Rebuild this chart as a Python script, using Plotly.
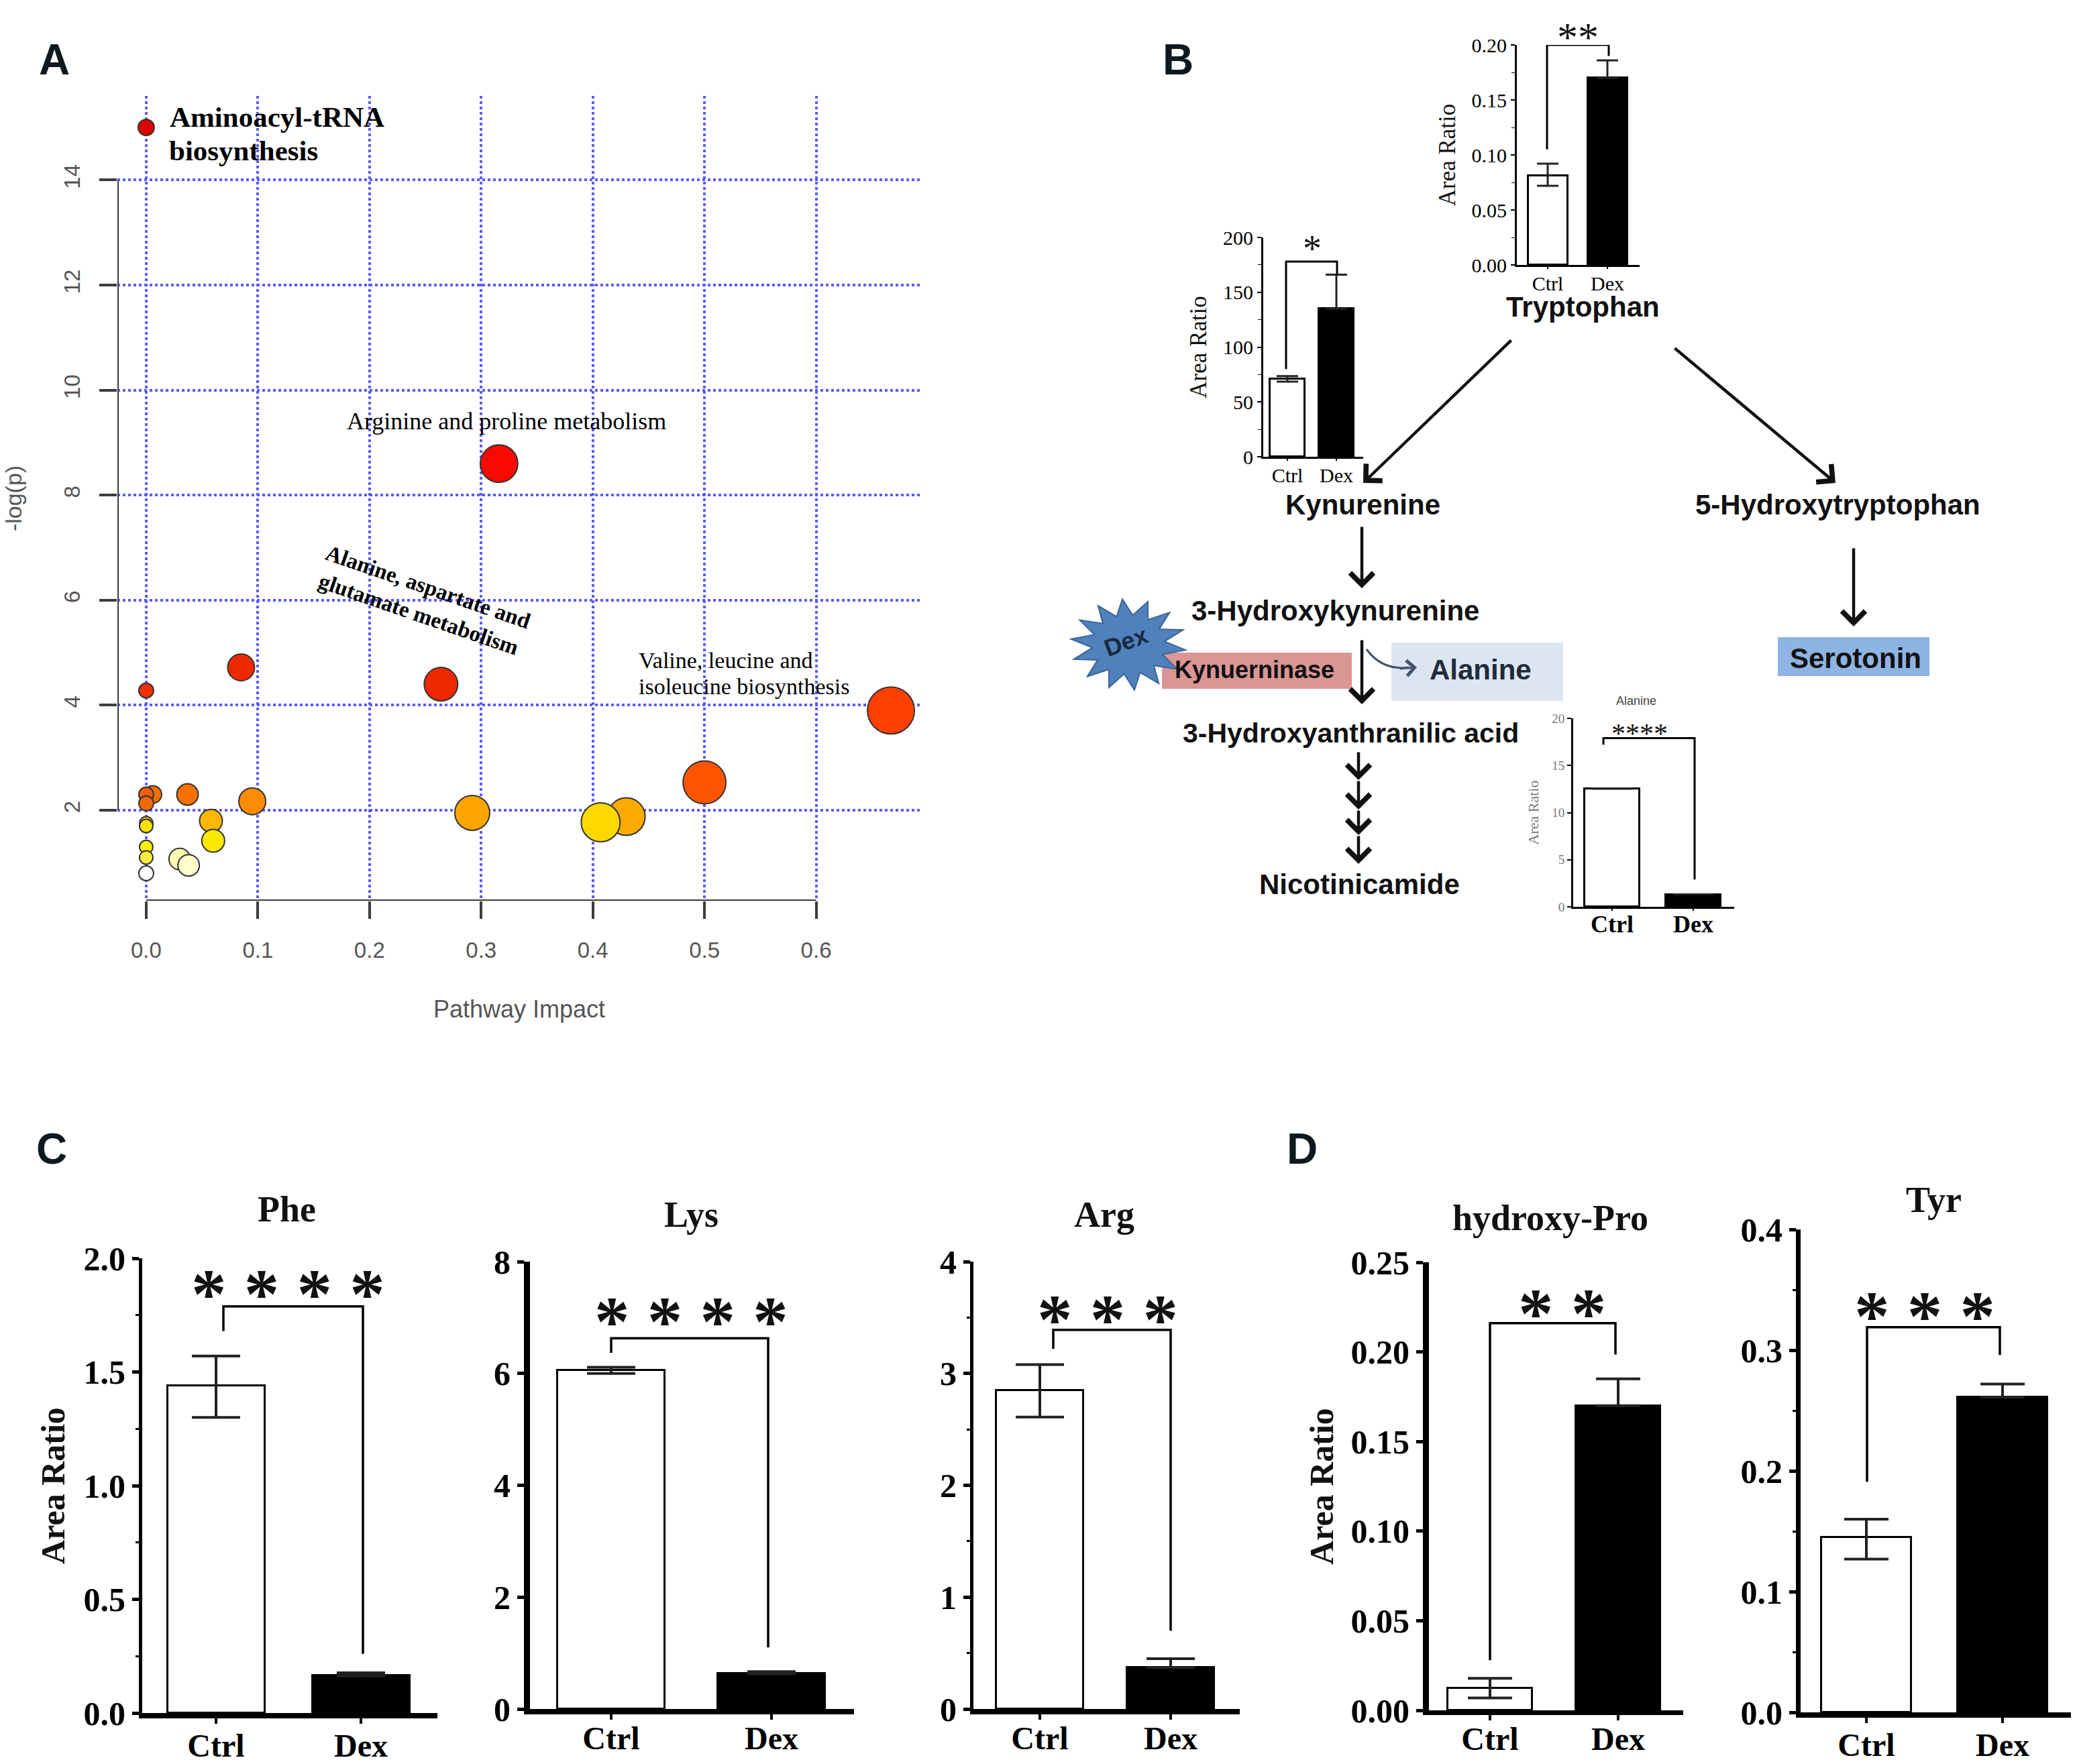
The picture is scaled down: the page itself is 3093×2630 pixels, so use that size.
import math
import plotly.graph_objects as go

W, H = 3093, 2630
SERIF = "Liberation Serif"
SANS = "Liberation Sans"

# ---------- Panel A data ----------
impact = [0.0, 0.0, 0.085, 0.264, 0.316, 0.667, 0.5, 0.43, 0.407, 0.292, 0.095, 0.058, 0.06, 0.037,
          0.006, 0.0, 0.0, 0.0, 0.0, 0.0, 0.0, 0.03, 0.038, 0.0]
neglogp = [15.0, 4.28, 4.72, 4.4, 8.6, 3.9, 2.53, 1.88, 1.77, 1.95, 2.17, 1.8, 1.42, 2.3,
           2.3, 2.3, 2.13, 1.75, 1.7, 1.3, 1.1, 1.07, 0.95, 0.8]
bubble_size = [24, 22, 40, 50, 56, 70, 64, 56, 58, 52, 40, 34, 34, 32,
               26, 22, 22, 20, 20, 20, 20, 32, 32, 22]
bubble_color = ["#dd0000", "#f03000", "#f02800", "#f02800", "#f80a00", "#ff4000", "#ff5500", "#ffaa00",
                "#ffd800", "#ffa500", "#ff8c00", "#ffb700", "#ffe800", "#f87000", "#f07000", "#f06000",
                "#ee6a00", "#ffc800", "#ffe000", "#fff000", "#fff040", "#fffbb0", "#fffdd0", "#ffffff"]
impact_ticks = [0.0, 0.1, 0.2, 0.3, 0.4, 0.5, 0.6]
impact_labels = ["0.0", "0.1", "0.2", "0.3", "0.4", "0.5", "0.6"]
logp_ticks = [2, 4, 6, 8, 10, 12, 14]

# ---------- Bar data ----------
groups = ["Ctrl", "Dex"]
phe_val, phe_up, phe_dn = [1.44, 0.164], [0.13, 0.013], [0.14, 0]
lys_val, lys_up, lys_dn = [6.06, 0.63], [0.05, 0.04], [0.06, 0]
arg_val, arg_up, arg_dn = [2.85, 0.37], [0.23, 0.08], [0.24, 0]
hyp_val, hyp_up, hyp_dn = [0.0124, 0.170], [0.0055, 0.015], [0.0055, 0]
tyr_val, tyr_up, tyr_dn = [0.145, 0.261], [0.015, 0.011], [0.018, 0]
trp_val, trp_up, trp_dn = [0.081, 0.170], [0.011, 0.016], [0.009, 0]
kyn_val, kyn_up, kyn_dn = [71, 135], [2.5, 31], [2.5, 0]
ala_val, ala_up, ala_dn = [12.55, 1.3], [0.05, 0.05], [0.05, 0]

phe_ticks, phe_labels = [0, 0.5, 1.0, 1.5, 2.0], ["0.0", "0.5", "1.0", "1.5", "2.0"]
lys_ticks, lys_labels = [0, 2, 4, 6, 8], ["0", "2", "4", "6", "8"]
arg_ticks, arg_labels = [0, 1, 2, 3, 4], ["0", "1", "2", "3", "4"]
hyp_ticks, hyp_labels = [0, 0.05, 0.10, 0.15, 0.20, 0.25], ["0.00", "0.05", "0.10", "0.15", "0.20", "0.25"]
tyr_ticks, tyr_labels = [0, 0.1, 0.2, 0.3, 0.4], ["0.0", "0.1", "0.2", "0.3", "0.4"]
trp_ticks, trp_labels = [0, 0.05, 0.10, 0.15, 0.20], ["0.00", "0.05", "0.10", "0.15", "0.20"]
kyn_ticks, kyn_labels = [0, 50, 100, 150, 200], ["0", "50", "100", "150", "200"]
ala_ticks, ala_labels = [0, 5, 10, 15, 20], ["0", "5", "10", "15", "20"]

# bracket heights: left foot, top, right foot
phe_br, lys_br, arg_br = [1.68, 1.788, 0.26], [6.37, 6.63, 1.1], [3.22, 3.39, 0.70]
hyp_br, tyr_br = [0.028, 0.216, 0.1985], [0.191, 0.319, 0.296]
trp_br, kyn_br, ala_br = [0.105, 0.20, 0.19], [80, 178, 166], [17.2, 17.9, 2.9]

# ---------- Layout of the bar panels (pixels in the 3093x2630 page) ----------
panels = [
 dict(val=phe_val, up=phe_up, dn=phe_dn, t=phe_ticks, l=phe_labels, br=phe_br, ymax=2.0, minor=0.25,
      x0=212, x1=652, y0=1876, y1=2554, c=(322, 538), bw=145, brx=(333, 541), stars="* * * *", sx=430, sy=1912, ss=105,
      title="Phe", tx=427, ty=1803, fs=50, bold=True, alw=5, xlw=8, lw=3, cap=36, et=4, ylab=True, xfs=48, xst=-9),
 dict(val=lys_val, up=lys_up, dn=lys_dn, t=lys_ticks, l=lys_labels, br=lys_br, ymax=8, minor=None,
      x0=790, x1=1273, y0=1881, y1=2548, c=(911, 1150), bw=160, brx=(911, 1145), stars="* * * *", sx=1030, sy=1953, ss=105,
      title="Lys", tx=1030, ty=1811, fs=50, bold=True, alw=9, xlw=8, lw=3, cap=36, et=4, ylab=False, xfs=48, xst=-14),
 dict(val=arg_val, up=arg_up, dn=arg_dn, t=arg_ticks, l=arg_labels, br=arg_br, ymax=4, minor=0.5,
      x0=1451, x1=1848, y0=1881, y1=2548, c=(1550, 1745), bw=130, brx=(1570, 1745), stars="* * *", sx=1651, sy=1950, ss=105,
      title="Arg", tx=1646, ty=1811, fs=50, bold=True, alw=5, xlw=8, lw=3, cap=36, et=4, ylab=False, xfs=48, xst=-14),
 dict(val=hyp_val, up=hyp_up, dn=hyp_dn, t=hyp_ticks, l=hyp_labels, br=hyp_br, ymax=0.25, minor=None,
      x0=2130, x1=2509, y0=1882, y1=2550, c=(2221, 2412), bw=126, brx=(2221, 2408), stars="* *", sx=2328, sy=1941, ss=105,
      title="hydroxy-Pro", tx=2311, ty=1816, fs=50, bold=True, alw=9, xlw=7, lw=3, cap=33, et=4, ylab=True, xfs=48, xst=-14),
 dict(val=tyr_val, up=tyr_up, dn=tyr_dn, t=tyr_ticks, l=tyr_labels, br=tyr_br, ymax=0.4, minor=0.05,
      x0=2684, x1=3087, y0=1833, y1=2553, c=(2782, 2985), bw=134, brx=(2783, 2981), stars="* * *", sx=2869, sy=1945, ss=105,
      title="Tyr", tx=2882, ty=1789, fs=50, bold=True, alw=7, xlw=8, lw=3, cap=33, et=4, ylab=False, xfs=48, xst=-9),
 dict(val=trp_val, up=trp_up, dn=trp_dn, t=trp_ticks, l=trp_labels, br=trp_br, ymax=0.20, minor=0.025,
      x0=2261, x1=2444, y0=67, y1=395, c=(2307, 2396), bw=59, brx=(2306, 2398), stars="**", sx=2352, sy=44, ss=62,
      title=None, fs=30, bold=False, alw=3, xlw=3, lw=3, cap=16, et=3, ylab=True, xfs=30, xst=-4),
 dict(val=kyn_val, up=kyn_up, dn=kyn_dn, t=kyn_ticks, l=kyn_labels, br=kyn_br, ymax=200, minor=25,
      x0=1883, x1=2032, y0=354, y1=681, c=(1919, 1992), bw=52, brx=(1917, 1993), stars="*", sx=1956, sy=361, ss=56,
      title=None, fs=30, bold=False, alw=3, xlw=3, lw=3, cap=16, et=3, ylab=True, xfs=30, xst=-4),
 dict(val=ala_val, up=ala_up, dn=ala_dn, t=ala_ticks, l=ala_labels, br=ala_br, ymax=20, minor=None,
      x0=2345, x1=2585, y0=1071, y1=1352, c=(2403, 2524), bw=82, brx=(2390, 2526), stars="****", sx=2444, sy=1087, ss=42,
      title=None, fs=19, bold=False, alw=3, xlw=3, lw=3, cap=30, et=2, ylab=True, xfs=36, xst=-11),
]


def X(px):
    return px / W


def Y(py):
    return 1 - py / H


annotations, shapes, traces = [], [], []
layout = {}


def txt(x, y, text, size, color="black", family=SERIF, bold=False, angle=0, anchor="center"):
    annotations.append(dict(x=X(x), y=Y(y), xref="paper", yref="paper", text=f"<b>{text}</b>" if bold else text,
                            showarrow=False, xanchor=anchor, yanchor="middle", textangle=angle,
                            font=dict(family=family, size=size, color=color)))


def arrow(x0, y0, x1, y1, width=4.5, size=1.5, color="#111111", head=4):
    annotations.append(dict(x=X(x1), y=Y(y1), xref="paper", yref="paper", ax=x0 - x1, ay=y0 - y1,
                            axref="pixel", ayref="pixel", text="", showarrow=True, arrowhead=head,
                            arrowwidth=width, arrowsize=size, arrowcolor=color))


def rect(x0, y0, x1, y1, color):
    shapes.append(dict(type="rect", xref="paper", yref="paper", x0=X(x0), x1=X(x1), y0=Y(y0), y1=Y(y1),
                       fillcolor=color, line=dict(width=0), layer="below"))


# ---------- Panel A ----------
A_L, A_R, A_T, A_B = 175, 1373, 143, 1343
A_XR = [-0.0258, 0.694]
A_YR = [0.276, 15.6]
# partial axis lines, as in an R base plot
traces.append(go.Scatter(x=[impact_ticks[0], impact_ticks[-1]], y=[A_YR[0], A_YR[0]], mode="lines", xaxis="x", yaxis="y",
                         cliponaxis=False, showlegend=False, hoverinfo="skip", line=dict(color="#3c3c3c", width=4)))
traces.append(go.Scatter(x=[A_XR[0], A_XR[0]], y=[logp_ticks[0], logp_ticks[-1]], mode="lines", xaxis="x", yaxis="y",
                         cliponaxis=False, showlegend=False, hoverinfo="skip", line=dict(color="#3c3c3c", width=4)))
traces.append(go.Scatter(x=impact, y=neglogp, mode="markers", xaxis="x", yaxis="y", cliponaxis=False, showlegend=False,
                         marker=dict(size=bubble_size, color=bubble_color, line=dict(color="#333333", width=2), opacity=1)))
grid = dict(showgrid=True, gridcolor="#5a5aff", griddash="dot", gridwidth=4, zeroline=False, showline=False,
            ticks="outside", ticklen=26, tickwidth=4, tickcolor="#3c3c3c", automargin=False,
            tickfont=dict(family=SANS, size=33, color="#555555"))
layout["xaxis"] = dict(domain=[X(A_L), X(A_R)], range=A_XR, tickmode="array", tickvals=impact_ticks, ticktext=impact_labels,
                       ticklabelstandoff=18,
                       title=dict(text="Pathway Impact", font=dict(family=SANS, size=36, color="#555555"), standoff=58), **grid)
layout["yaxis"] = dict(domain=[Y(A_B), Y(A_T)], range=A_YR, tickmode="array", tickvals=logp_ticks,
                       ticktext=[str(v) for v in logp_ticks], tickangle=-90, ticklabelstandoff=16,
                       title=dict(text="-log(p)", font=dict(family=SANS, size=34, color="#555555"), standoff=45), **grid)

txt(251, 175, "Aminoacyl-tRNA", 43, bold=True, anchor="left")
txt(250, 224, "biosynthesis", 43, bold=True, anchor="left")
txt(755, 628, "Arginine and proline metabolism", 36, anchor="center")
txt(631, 896, "Alanine, aspartate and<br>glutamate metabolism", 33, bold=True, angle=19)
txt(950, 985, "Valine, leucine and", 34, anchor="left")
txt(950, 1023, "isoleucine biosynthesis", 34, anchor="left")

# ---------- Bar panels ----------
for i, p in enumerate(panels, start=2):
    xa, ya = f"x{i}", f"y{i}"
    c0, c1 = p["c"]
    span = c1 - c0
    xr = [(p["x0"] - c0) / span, (p["x1"] - c0) / span]
    traces.append(go.Bar(x=[0, 1], y=p["val"], xaxis=xa, yaxis=ya, width=p["bw"] / span, showlegend=False,
                         marker=dict(color=["white", "black"], line=dict(color="black", width=p["lw"])),
                         error_y=dict(type="data", symmetric=False, array=p["up"], arrayminus=p["dn"],
                                      color="#222222", thickness=p["et"], width=p["cap"])))
    bl, br_ = (p["brx"][0] - c0) / span, (p["brx"][1] - c0) / span
    traces.append(go.Scatter(x=[bl, bl, br_, br_], y=[p["br"][0], p["br"][1], p["br"][1], p["br"][2]], mode="lines",
                             xaxis=xa, yaxis=ya, showlegend=False, hoverinfo="skip",
                             line=dict(color="black", width=3.5 if p["xfs"] > 40 else 3)))
    tick_font = dict(family=SERIF, size=p["fs"], color="#777777" if p["fs"] < 25 else "black")
    tf = f"<b>%s</b>" if p["bold"] else "%s"
    layout[f"xaxis{i}"] = dict(domain=[X(p["x0"]), X(p["x1"])], range=xr, anchor=ya, tickmode="array", tickvals=[0, 1],
                               ticktext=[(f"<b>{g}</b>" if p["xfs"] >= 36 else g) for g in groups], automargin=False,
                               showgrid=False, zeroline=False, showline=True, linecolor="black", linewidth=p["xlw"],
                               ticks="outside", ticklen=8 if p["xfs"] > 40 else 3, tickwidth=4 if p["xfs"] > 40 else 2,
                               ticklabelstandoff=p["xst"],
                               tickcolor="black", tickfont=dict(family=SERIF, size=p["xfs"], color="black"))
    ytitle = None
    if p["ylab"]:
        size = {50: 50, 30: 35, 19: 22}[p["fs"]]
        ytitle = dict(text="<b>Area Ratio</b>" if p["bold"] else "Area Ratio",
                      font=dict(family=SERIF, size=size, color="#777777" if p["fs"] < 25 else "#111111"),
                      standoff=14 if p["bold"] else 14)
    yaxis = dict(domain=[Y(p["y1"]), Y(p["y0"])], range=[0, p["ymax"]], anchor=xa, tickmode="array", tickvals=p["t"],
                 ticktext=[tf % v for v in p["l"]], showgrid=False, zeroline=False, showline=True, linecolor="black",
                 linewidth=p["alw"], ticks="outside", ticklen=10 if p["bold"] else 6, tickwidth=5 if p["bold"] else 2,
                 tickcolor="black", tickfont=tick_font, automargin=False)
    if ytitle:
        yaxis["title"] = ytitle
    if p["minor"]:
        yaxis["minor"] = dict(dtick=p["minor"], ticks="outside", ticklen=5, tickwidth=3 if p["bold"] else 1, tickcolor="black")
    layout[f"yaxis{i}"] = yaxis
    txt(p["sx"], p["sy"] + 0.17 * p["ss"], p["stars"], p["ss"], color="#111111", bold=p["bold"])
    if p["title"]:
        txt(p["tx"], p["ty"], p["title"], 54, bold=True, color="#111111")

txt(2439, 1045, "Alanine", 18, family=SANS, color="#444444")

# ---------- Panel B pathway ----------
rect(1732, 973, 2015, 1027, "#d99694")
rect(2074, 958, 2330, 1045, "#dce6f2")
rect(2650, 950, 2876, 1008, "#8db4e2")

path_font = dict(size=42, family=SANS, bold=True, color="#111111")
txt(2359, 457, "Tryptophan", **path_font)
txt(2032, 752, "Kynurenine", **path_font)
txt(2739, 752, "5-Hydroxytryptophan", **path_font)
txt(1991, 911, "3-Hydroxykynurenine", **path_font)
txt(1870, 999, "Kynuerninase", size=36, family=SANS, bold=True, color="#111111")
txt(2207, 999, "Alanine", size=42, family=SANS, bold=True, color="#222b3a")
txt(2766, 981, "Serotonin", size=42, family=SANS, bold=True, color="#111111")
txt(2013, 1093, "3-Hydroxyanthranilic acid", size=41, family=SANS, bold=True, color="#111111")
txt(2026, 1318, "Nicotinicamide", **path_font)

arrow(2254, 506, 2032, 720)
arrow(2495, 518, 2736, 720)
arrow(2030, 784, 2030, 877)
arrow(2763, 816, 2763, 934)
arrow(2030, 953, 2030, 1050)
arrow(2025, 1120, 2025, 1163)
arrow(2025, 1163, 2025, 1207)
arrow(2025, 1207, 2025, 1245)
arrow(2025, 1245, 2025, 1288)
shapes.append(dict(type="path", xref="paper", yref="paper", layer="above",
                   path=f"M{X(2037)},{Y(968)} Q{X(2060)},{Y(1000)} {X(2100)},{Y(995)}",
                   line=dict(color="#44546a", width=3)))
arrow(2085, 997, 2112, 995, width=3, size=1.5, color="#44546a")

# Dex starburst (decoration)
cx, cy, n = 1682, 961, 14
pts = []
for k in range(2 * n):
    a = math.pi * k / n + 0.12
    rx, ry = (86, 68) if k % 2 == 0 else (54, 44)
    pts.append((cx + rx * math.cos(a), cy + ry * math.sin(a)))
star = "M" + " L".join(f"{X(a)},{Y(b)}" for a, b in pts) + " Z"
shapes.append(dict(type="path", xref="paper", yref="paper", path=star, fillcolor="#4f81bd",
                   line=dict(color="#3a6595", width=2), layer="below"))
txt(1678, 956, "Dex", 36, family=SANS, bold=True, color="#1a2a40", angle=-20)

# ---------- Panel letters ----------
for s, x, y in [("A", 81, 89), ("B", 1756, 89), ("C", 77, 1713), ("D", 1941, 1713)]:
    txt(x, y, s, 64, family=SANS, bold=True, color="#0c1a1f")

fig = go.Figure(data=traces)
fig.update_layout(width=W, height=H, margin=dict(l=0, r=0, t=0, b=0, autoexpand=False), paper_bgcolor="white",
                  plot_bgcolor="rgba(0,0,0,0)", showlegend=False, bargap=0, annotations=annotations, shapes=shapes, **layout)
fig.write_html("out.html", post_script="document.body.style.margin='0';", config=dict(displayModeBar=False))
